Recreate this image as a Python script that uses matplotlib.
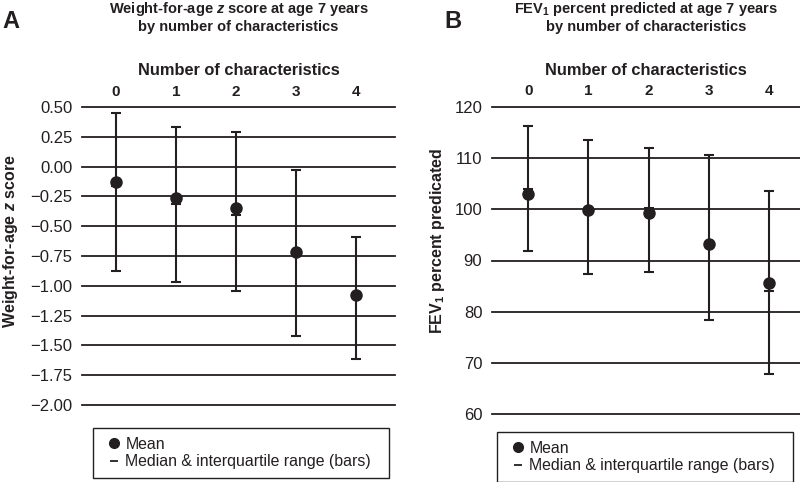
import numpy as np
import matplotlib
matplotlib.use("Agg")
import matplotlib.pyplot as plt
from matplotlib.lines import Line2D

plt.rcParams['font.family'] = ['Liberation Sans', 'DejaVu Sans']
plt.rcParams['mathtext.fontset'] = 'custom'
plt.rcParams['mathtext.rm'] = 'Liberation Sans:bold'
plt.rcParams['mathtext.it'] = 'Liberation Sans:italic:bold'

# ---------------------------------------------------------------
# Data
# ---------------------------------------------------------------
cats = np.array([0, 1, 2, 3, 4])

wfa_mean = np.array([-0.13, -0.26, -0.35, -0.72, -1.08])
wfa_median = np.array([-0.16, -0.31, -0.41, -0.73, -1.09])
wfa_q1 = np.array([-0.88, -0.97, -1.04, -1.42, -1.61])
wfa_q3 = np.array([0.45, 0.33, 0.29, -0.03, -0.59])
wfa_ticks = [0.50, 0.25, 0.00, -0.25, -0.50, -0.75, -1.00, -1.25, -1.50, -1.75, -2.00]

fev_mean = np.array([103.0, 99.9, 99.3, 93.2, 85.7])
fev_median = np.array([104.0, 100.1, 100.2, 93.5, 84.1])
fev_q1 = np.array([91.9, 87.4, 87.7, 78.4, 67.8])
fev_q3 = np.array([116.2, 113.6, 111.9, 110.6, 103.6])
fev_ticks = [120, 110, 100, 90, 80, 70, 60]

ink = '#231f20'

fig = plt.figure(figsize=(8, 4.82), dpi=100)


def panel(rect, xlim, ticks, fmt, median, q1, q3, mean, ylabel, letter, title, lx, legend_box):
    ax = fig.add_axes(rect)
    ax.set_xlim(*xlim)
    ax.set_ylim(min(ticks), max(ticks))
    for t in ticks:
        ax.axhline(t, color=ink, lw=1.3, clip_on=False, zorder=1)
    ax.errorbar(cats, median, yerr=[median - q1, q3 - median], fmt='_', color=ink,
                ms=7, mew=1.5, elinewidth=1.5, capsize=3.5, capthick=1.5, zorder=2)
    ax.plot(cats, mean, 'o', color=ink, ms=8, zorder=3)
    for s in ax.spines.values():
        s.set_visible(False)
    ax.set_yticks(ticks)
    ax.set_yticklabels([fmt(t) for t in ticks])
    ax.tick_params(axis='y', length=0, pad=7, labelsize=12, colors=ink)
    ax.xaxis.tick_top()
    ax.set_xticks(cats)
    ax.set_xticklabels([str(c) for c in cats], fontweight='bold')
    ax.tick_params(axis='x', length=0, pad=6, labelsize=11, colors=ink)
    ax.set_xlabel('Number of characteristics', fontweight='bold', fontsize=11.8, color=ink, labelpad=7)
    ax.xaxis.set_label_position('top')
    ax.set_ylabel(ylabel, fontweight='bold', fontsize=11.5, color=ink)
    ax.yaxis.set_label_coords(lx, 0.5, transform=fig.transFigure)

    x_mid = (rect[0] + rect[0] + rect[2]) / 2
    fig.text(x_mid, 1 - 17 / 482, title, ha='center', va='center', fontsize=10.5,
             fontweight='bold', color=ink, linespacing=1.15)
    fig.text(letter[1], 1 - 21 / 482, letter[0], ha='center', va='center',
             fontsize=17, fontweight='bold', color=ink)

    handles = [Line2D([], [], marker='o', ls='none', color=ink, ms=7),
               Line2D([], [], marker='_', ls='none', color=ink, ms=6, mew=1.3)]
    leg = ax.legend(handles, ['Mean', 'Median & interquartile range (bars)'],
                    loc='upper left', bbox_to_anchor=legend_box, bbox_transform=fig.transFigure,
                    mode='expand', frameon=True, fancybox=False, fontsize=11.4,
                    handlelength=1.5, handletextpad=0.0, borderpad=0.55,
                    labelspacing=0.15, borderaxespad=0, framealpha=1)
    leg.get_frame().set_edgecolor(ink)
    leg.get_frame().set_linewidth(1.0)
    for t in leg.get_texts():
        t.set_color(ink)
    return ax


# panel A
panel([82 / 800, 1 - 405 / 482, 313 / 800, 298 / 482], (-0.567, 4.65), wfa_ticks,
      lambda t: f'{t:.2f}'.replace('-', '\u2212'),
      wfa_median, wfa_q1, wfa_q3, wfa_mean,
      'Weight-for-age $z$ score', ('A', 11 / 800),
      'Weight-for-age $z$ score at age 7 years\nby number of characteristics',
      20 / 800, (93 / 800, 1 - 481 / 482, 296 / 800, 53 / 482))

# panel B
panel([492 / 800, 1 - 414.3 / 482, 308 / 800, 307.6 / 482], (-0.6, 4.51), fev_ticks,
      lambda t: f'{t:d}',
      fev_median, fev_q1, fev_q3, fev_mean,
      'FEV$_1$ percent predicated', ('B', 453 / 800),
      'FEV$_1$ percent predicted at age 7 years\nby number of characteristics',
      447 / 800, (497 / 800, 1 - 481 / 482, 296 / 800, 49 / 482))

fig.savefig('out.png', dpi=100)
